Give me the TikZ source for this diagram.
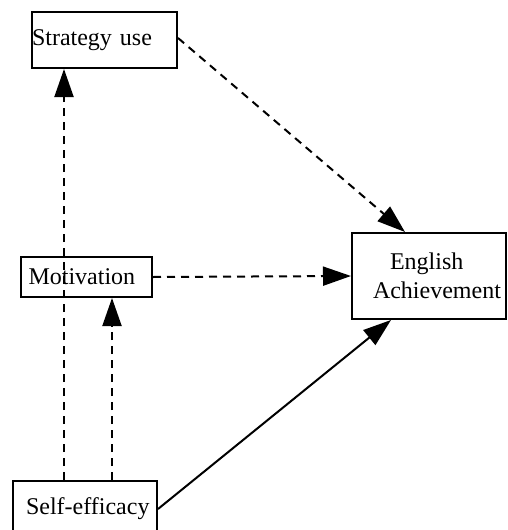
\documentclass[tikz,border=0pt]{standalone}
\usepackage{fontspec}
\setmainfont{Liberation Serif}
\usetikzlibrary{arrows.meta}
\begin{document}
\begin{tikzpicture}[x=1pt,y=-1pt,
  box/.style={draw,line width=2pt,inner sep=0pt,font=\fontsize{24}{29}\selectfont},
  link/.style={line width=2pt,-{Triangle[length=28pt,width=19pt]}},
  dlink/.style={link,dash pattern=on 8pt off 6pt}]
\useasboundingbox (0,0) rectangle (508,530);
% variables
\node[box,minimum width=145pt,minimum height=56pt,text width=145pt,align=left] (strat) at (104.5,40) {Strategy use};
\node[box,minimum width=131pt,minimum height=40pt,text width=126pt,align=left] (motiv) at (86.5,277) {\hspace*{5pt}Motivation};
\node[box,minimum width=154pt,minimum height=86pt,text width=154pt,align=left] (eng) at (429,276) {\hspace*{38pt}English\\\hspace*{21pt}Achievement};
\node[box,minimum width=144pt,minimum height=56pt,text width=144pt,align=left] (self) at (85,509) {\hspace*{13pt}Self-efficacy};
% paths
\draw[dlink] ([xshift=52pt]self.north west) -- ([xshift=33pt]strat.south west);
\draw[dlink] ([xshift=100pt]self.north west) -- ([xshift=92pt]motiv.south west);
\draw[dlink] (motiv.east) -- (eng.west);
\draw[dlink] ([yshift=2pt]strat.east) -- ([xshift=54pt]eng.north west);
\draw[link] (self.east) -- ([xshift=40pt]eng.south west);
\end{tikzpicture}
\end{document}
